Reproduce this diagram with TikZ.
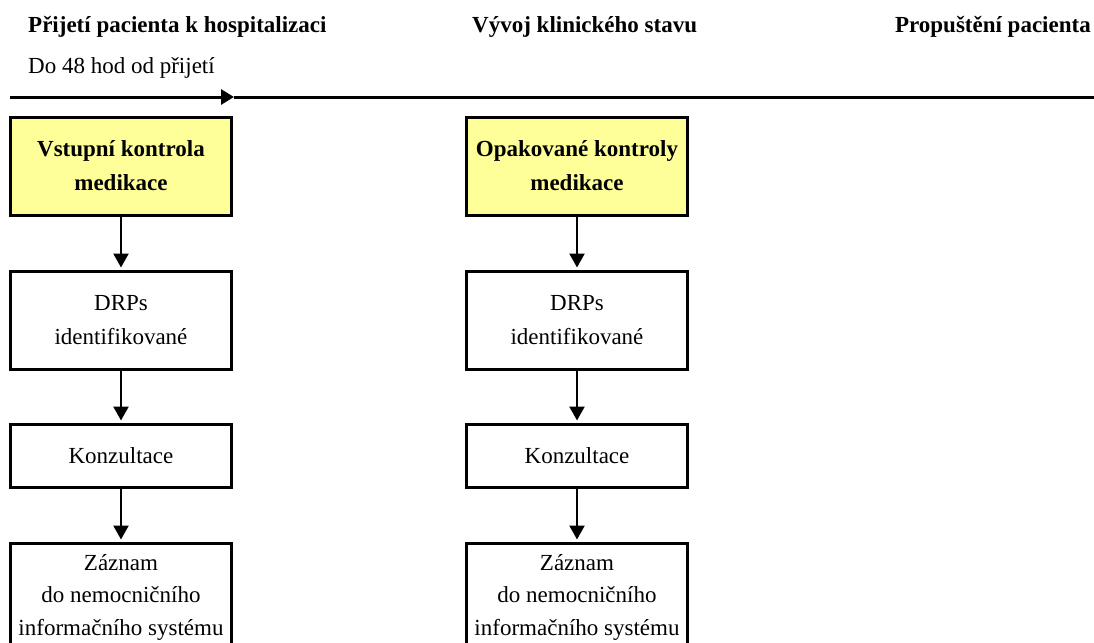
\documentclass[tikz,border=0pt]{standalone}
\usepackage{fontspec}
\setmainfont{Liberation Serif}
\usetikzlibrary{arrows.meta}
\definecolor{checkyellow}{HTML}{FFFF99}
\tikzset{
  txt/.style={font=\fontsize{23}{34}\selectfont},
  heading/.style={font=\bfseries\fontsize{23}{28}\selectfont, inner sep=0pt},
  stepbox/.style={draw, line width=3pt, minimum width=221pt, inner sep=0pt, align=center, txt},
  checkbox/.style={stepbox, fill=checkyellow, font=\bfseries\fontsize{23}{34}\selectfont},
  recordbox/.style={stepbox, minimum height=108pt, font=\fontsize{23}{32.5}\selectfont},
  flow/.style={line width=2.5pt, shorten >=2pt, -{Triangle[length=14pt,width=15pt]}},
  timeline/.style={line width=3pt},
}
\begin{document}
\begin{tikzpicture}[x=1pt,y=-1pt]
	\useasboundingbox (0,0) rectangle (1094,642);
	% headings
	\node[heading, anchor=base west] (hadmit) at (28,33) {Přijetí pacienta k hospitalizaci};
	\node[heading, anchor=base west] (hcourse) at (472,33) {Vývoj klinického stavu};
	\node[heading, anchor=base east] (hdisch) at (1091,33) {Propuštění pacienta};
	\node[txt, inner sep=0pt, anchor=base west] (h48) at (28,74) {Do 48 hod od přijetí};
	% the time line
	\coordinate (tstart) at (10,97);
	\coordinate (t48) at (234,97);
	\coordinate (tend) at (1094,97);
	\draw[timeline, -{Triangle[length=13pt,width=15pt]}] (tstart) -- (t48);
	\draw[timeline] (t48) -- (tend);
	% admission column
	\node[checkbox, minimum height=98pt] (vk) at (121,166) {Vstupní kontrola\\medikace};
	\node[stepbox, minimum height=98pt] (drp1) at (121,320) {DRPs\\identifikované};
	\node[stepbox, minimum height=63pt] (kon1) at (121,455.5) {Konzultace};
	\node[recordbox] (zaz1) at (121,597) {Záznam\\do nemocničního\\informačního systému};
	\draw[flow] (vk) -- (drp1);
	\draw[flow] (drp1) -- (kon1);
	\draw[flow] (kon1) -- (zaz1);
	% repeated checks column
	\node[checkbox, minimum height=98pt] (ok) at (577,166) {Opakované kontroly\\medikace};
	\node[stepbox, minimum height=98pt] (drp2) at (577,320) {DRPs\\identifikované};
	\node[stepbox, minimum height=63pt] (kon2) at (577,455.5) {Konzultace};
	\node[recordbox] (zaz2) at (577,597) {Záznam\\do nemocničního\\informačního systému};
	\draw[flow] (ok) -- (drp2);
	\draw[flow] (drp2) -- (kon2);
	\draw[flow] (kon2) -- (zaz2);
\end{tikzpicture}
\end{document}
